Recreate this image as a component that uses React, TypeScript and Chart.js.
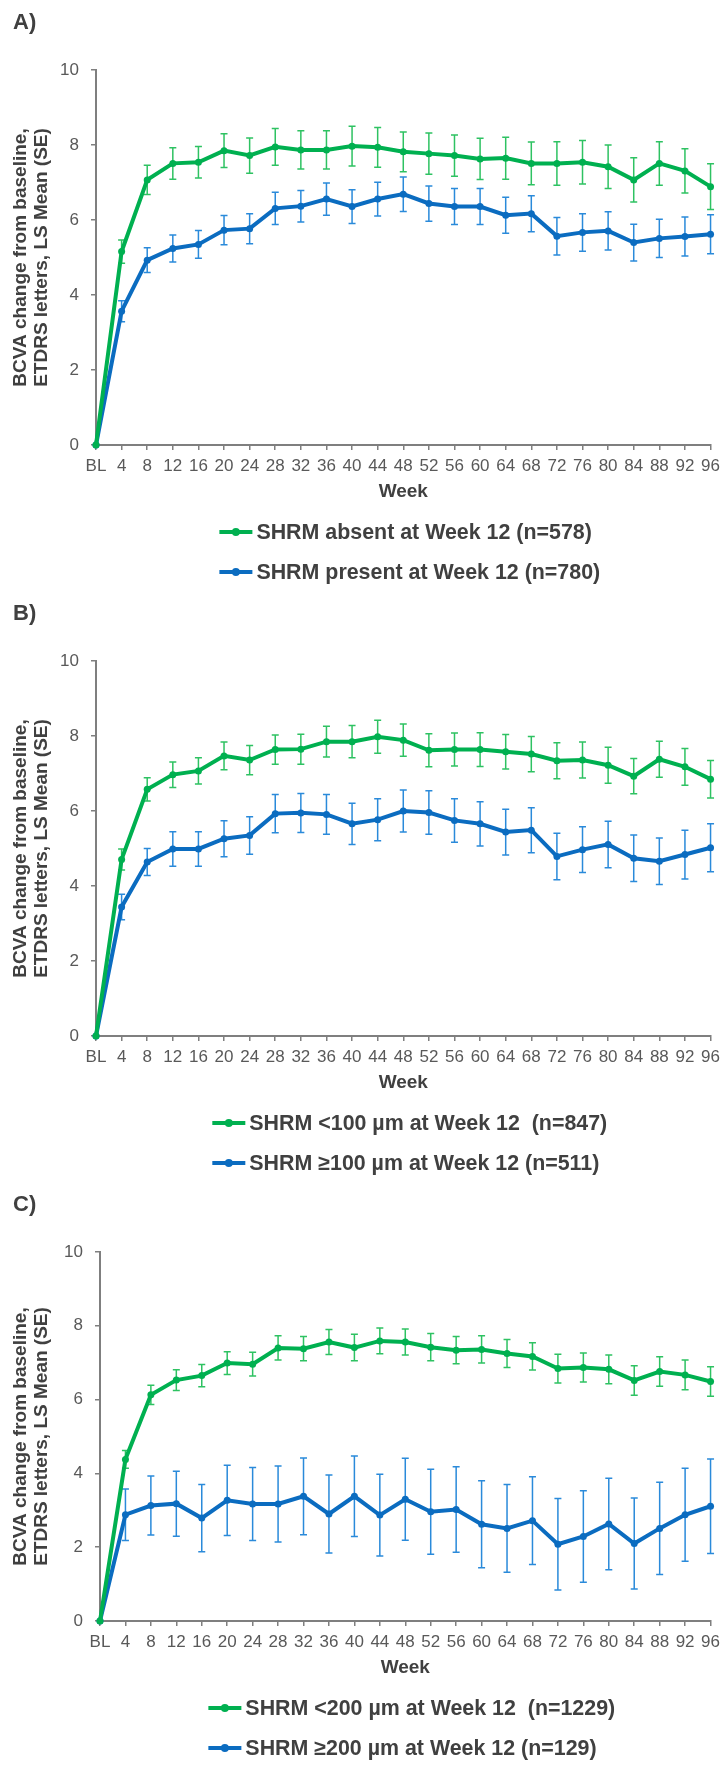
import React, { useEffect, useRef } from 'react';
import { Chart, registerables } from 'chart.js';

Chart.register(...registerables);

const FONT = "'Liberation Sans', Arial, Helvetica, sans-serif";

const weeks = ['BL', '4', '8', '12', '16', '20', '24', '28', '32', '36', '40', '44', '48', '52', '56', '60', '64', '68', '72', '76', '80', '84', '88', '92', '96'];
const yTickValues = [0, 2, 4, 6, 8, 10];
const yTitle = ['BCVA change from baseline,', 'ETDRS letters, LS Mean (SE)'];
const xTitle = 'Week';

// Panel A
const aLabels = ['SHRM absent at Week 12 (n=578)', 'SHRM present at Week 12 (n=780)'];
const aGreenMean = [0, 5.16, 7.07, 7.51, 7.54, 7.85, 7.72, 7.95, 7.87, 7.87, 7.97, 7.94, 7.82, 7.77, 7.72, 7.63, 7.65, 7.51, 7.51, 7.54, 7.42, 7.07, 7.51, 7.31, 6.89];
const aGreenSE = [0, 0.31, 0.39, 0.42, 0.42, 0.45, 0.47, 0.49, 0.51, 0.51, 0.53, 0.53, 0.53, 0.55, 0.55, 0.55, 0.56, 0.57, 0.58, 0.58, 0.58, 0.59, 0.58, 0.59, 0.61];
const aBlueMean = [0, 3.57, 4.93, 5.24, 5.35, 5.73, 5.77, 6.31, 6.37, 6.56, 6.36, 6.56, 6.69, 6.44, 6.36, 6.36, 6.13, 6.17, 5.57, 5.67, 5.71, 5.40, 5.51, 5.56, 5.62];
const aBlueSE = [0, 0.28, 0.33, 0.36, 0.37, 0.39, 0.40, 0.43, 0.42, 0.43, 0.45, 0.45, 0.46, 0.47, 0.48, 0.48, 0.48, 0.48, 0.50, 0.50, 0.51, 0.49, 0.51, 0.52, 0.52];

// Panel B
const bLabels = ['SHRM <100 µm at Week 12  (n=847)', 'SHRM ≥100 µm at Week 12 (n=511)'];
const bGreenMean = [0, 4.71, 6.58, 6.97, 7.07, 7.47, 7.36, 7.64, 7.65, 7.85, 7.85, 7.98, 7.89, 7.62, 7.64, 7.64, 7.58, 7.52, 7.34, 7.36, 7.22, 6.93, 7.38, 7.18, 6.85];
const bGreenSE = [0, 0.28, 0.31, 0.34, 0.35, 0.37, 0.39, 0.39, 0.40, 0.41, 0.43, 0.44, 0.43, 0.44, 0.44, 0.45, 0.46, 0.47, 0.48, 0.48, 0.48, 0.47, 0.48, 0.49, 0.50];
const bBlueMean = [0, 3.44, 4.64, 4.99, 4.99, 5.26, 5.35, 5.93, 5.95, 5.91, 5.66, 5.77, 6.00, 5.96, 5.75, 5.66, 5.44, 5.49, 4.79, 4.97, 5.11, 4.74, 4.66, 4.84, 5.02];
const bBlueSE = [0, 0.34, 0.36, 0.46, 0.46, 0.48, 0.50, 0.51, 0.52, 0.53, 0.55, 0.56, 0.56, 0.58, 0.58, 0.59, 0.61, 0.60, 0.62, 0.61, 0.62, 0.62, 0.62, 0.65, 0.64];

// Panel C
const cLabels = ['SHRM <200 µm at Week 12  (n=1229)', 'SHRM ≥200 µm at Week 12 (n=129)'];
const cGreenMean = [0, 4.38, 6.13, 6.53, 6.65, 6.99, 6.96, 7.40, 7.38, 7.56, 7.41, 7.59, 7.56, 7.42, 7.34, 7.36, 7.25, 7.17, 6.84, 6.87, 6.82, 6.52, 6.76, 6.67, 6.49];
const cGreenSE = [0, 0.24, 0.26, 0.28, 0.30, 0.31, 0.32, 0.33, 0.33, 0.34, 0.36, 0.35, 0.35, 0.37, 0.37, 0.37, 0.38, 0.37, 0.39, 0.39, 0.39, 0.40, 0.40, 0.40, 0.40];
const cBlueMean = [0, 2.88, 3.13, 3.18, 2.79, 3.27, 3.17, 3.17, 3.38, 2.90, 3.38, 2.87, 3.30, 2.96, 3.02, 2.62, 2.51, 2.72, 2.08, 2.29, 2.63, 2.10, 2.51, 2.88, 3.11];
const cBlueSE = [0, 0.70, 0.80, 0.88, 0.91, 0.95, 0.99, 1.03, 1.04, 1.06, 1.09, 1.11, 1.11, 1.15, 1.16, 1.18, 1.19, 1.19, 1.24, 1.24, 1.24, 1.23, 1.25, 1.26, 1.28];

const GREEN = '#00B050';
const GREEN_ERR = '#2EC262';
const BLUE = '#0B6CC0';
const BLUE_ERR = '#2A8ADA';
const TEXT_DARK = '#404040';
const TEXT_TICK = '#595959';
const AXIS = '#7F7F7F';

const errorBarsPlugin = {
  id: 'errorBars',
  beforeDatasetsDraw(chart: any) {
    const { ctx } = chart;
    const yScale = chart.scales.y;
    chart.data.datasets.forEach((ds: any, di: number) => {
      const meta = chart.getDatasetMeta(di);
      const errs: number[] = ds.errors;
      if (!errs) return;
      ctx.save();
      ctx.strokeStyle = ds.errorColor;
      ctx.lineWidth = 1.5;
      const cap = 3.5;
      meta.data.forEach((pt: any, i: number) => {
        const e = errs[i];
        if (!e) return;
        const v = ds.data[i];
        const x = pt.x;
        const yt = yScale.getPixelForValue(v + e);
        const yb = yScale.getPixelForValue(v - e);
        ctx.beginPath();
        ctx.moveTo(x, yt);
        ctx.lineTo(x, yb);
        ctx.moveTo(x - cap, yt);
        ctx.lineTo(x + cap, yt);
        ctx.moveTo(x - cap, yb);
        ctx.lineTo(x + cap, yb);
        ctx.stroke();
      });
      ctx.restore();
    });
  },
};

const rowLegendPlugin = {
  id: 'rowLegend',
  afterDraw(chart: any, _args: any, opts: any) {
    const { ctx, chartArea } = chart;
    ctx.save();
    ctx.font = `bold ${opts.fontSize}px ${FONT}`;
    const widths = chart.data.datasets.map((d: any) => ctx.measureText(d.label).width);
    const maxW = Math.max(...widths);
    const blockW = opts.lineLen + opts.gap + maxW;
    const cx = (chartArea.left + chartArea.right) / 2 + opts.shift;
    const left = cx - blockW / 2;
    chart.data.datasets.forEach((ds: any, i: number) => {
      const y = chartArea.bottom + opts.offsetY + i * opts.rowGap;
      ctx.strokeStyle = ds.borderColor;
      ctx.lineWidth = 4;
      ctx.beginPath();
      ctx.moveTo(left, y);
      ctx.lineTo(left + opts.lineLen, y);
      ctx.stroke();
      ctx.fillStyle = ds.borderColor;
      ctx.beginPath();
      ctx.arc(left + opts.lineLen / 2, y, 4, 0, Math.PI * 2);
      ctx.fill();
      ctx.fillStyle = opts.color;
      ctx.textBaseline = 'middle';
      ctx.textAlign = 'left';
      ctx.fillText(ds.label, left + opts.lineLen + opts.gap, y + 1);
    });
    ctx.restore();
  },
};

type PanelProps = {
  letter: string;
  top: number;
  height: number;
  axisLeft: number;
  rightPad: number;
  labels: string[];
  greenMean: number[];
  greenSE: number[];
  blueMean: number[];
  blueSE: number[];
};

function Panel(p: PanelProps) {
  const ref = useRef<HTMLCanvasElement | null>(null);
  useEffect(() => {
    if (!ref.current) return;
    const chart = new Chart(ref.current, {
      type: 'line',
      data: {
        labels: weeks,
        datasets: [
          {
            label: p.labels[0],
            data: p.greenMean,
            errors: p.greenSE,
            errorColor: GREEN_ERR,
            borderColor: GREEN,
            backgroundColor: GREEN,
            borderWidth: 4,
            pointRadius: 3.5,
            pointBorderWidth: 0,
            pointBackgroundColor: GREEN,
            tension: 0,
          } as any,
          {
            label: p.labels[1],
            data: p.blueMean,
            errors: p.blueSE,
            errorColor: BLUE_ERR,
            borderColor: BLUE,
            backgroundColor: BLUE,
            borderWidth: 4,
            pointRadius: 3.5,
            pointBorderWidth: 0,
            pointBackgroundColor: BLUE,
            tension: 0,
          } as any,
        ],
      },
      options: {
        responsive: false,
        animation: false,
        devicePixelRatio: 1,
        clip: false as any,
        layout: { padding: { top: 70, left: 0, right: p.rightPad, bottom: 88 } },
        plugins: {
          legend: { display: false },
          tooltip: { enabled: false },
          title: { display: false },
          rowLegend: { fontSize: 21.4, lineLen: 33, gap: 4, shift: 6.5, offsetY: 87, rowGap: 40, color: TEXT_DARK },
        } as any,
        scales: {
          x: {
            type: 'category',
            offset: false,
            grid: { display: true, drawOnChartArea: false, drawTicks: true, tickLength: 5, color: AXIS, lineWidth: 1.5 },
            border: { display: true, color: AXIS, width: 2 },
            ticks: { color: TEXT_TICK, font: { family: FONT, size: 17 }, padding: 6, maxRotation: 0, autoSkip: false },
            title: { display: true, text: xTitle, color: TEXT_DARK, font: { family: FONT, size: 19, weight: 'bold', lineHeight: 1.2 }, padding: { top: 0, bottom: 0 } },
            afterFit(scale: any) {
              scale.height = 58;
            },
          },
          y: {
            min: 0,
            max: 10,
            afterBuildTicks(scale: any) {
              scale.ticks = yTickValues.map((v) => ({ value: v }));
            },
            grid: { display: true, drawOnChartArea: false, drawTicks: true, tickLength: 5, color: AXIS, lineWidth: 1.5 },
            border: { display: true, color: AXIS, width: 2 },
            ticks: { color: TEXT_TICK, font: { family: FONT, size: 17 }, padding: 12 },
            title: { display: true, text: yTitle, color: TEXT_DARK, font: { family: FONT, size: 19, weight: 'bold', lineHeight: 1.1 }, padding: { top: 10.5, bottom: 0 } },
            afterFit(scale: any) {
              scale.width = p.axisLeft;
            },
          },
        },
      } as any,
      plugins: [errorBarsPlugin, rowLegendPlugin],
    });
    return () => chart.destroy();
  }, []);

  return (
    <div style={{ position: 'absolute', left: 0, top: p.top, width: 726, height: p.height }}>
      <canvas ref={ref} width={726} height={p.height} style={{ display: 'block', width: 726, height: p.height }} />
      <div
        style={{
          position: 'absolute',
          left: 13,
          top: 11,
          fontFamily: FONT,
          fontWeight: 'bold',
          fontSize: 22,
          lineHeight: '22px',
          color: TEXT_DARK,
        }}
      >
        {p.letter}
      </div>
    </div>
  );
}

export default function App() {
  return (
    <div style={{ position: 'absolute', left: 0, top: 0, width: 726, height: 1767, background: '#ffffff', overflow: 'hidden' }}>
      <Panel letter="A)" top={0} height={591} axisLeft={96} rightPad={13} labels={aLabels} greenMean={aGreenMean} greenSE={aGreenSE} blueMean={aBlueMean} blueSE={aBlueSE} />
      <Panel letter="B)" top={591} height={591} axisLeft={96} rightPad={13} labels={bLabels} greenMean={bGreenMean} greenSE={bGreenSE} blueMean={bBlueMean} blueSE={bBlueSE} />
      <Panel letter="C)" top={1182} height={585} axisLeft={100} rightPad={9} labels={cLabels} greenMean={cGreenMean} greenSE={cGreenSE} blueMean={cBlueMean} blueSE={cBlueSE} />
    </div>
  );
}
